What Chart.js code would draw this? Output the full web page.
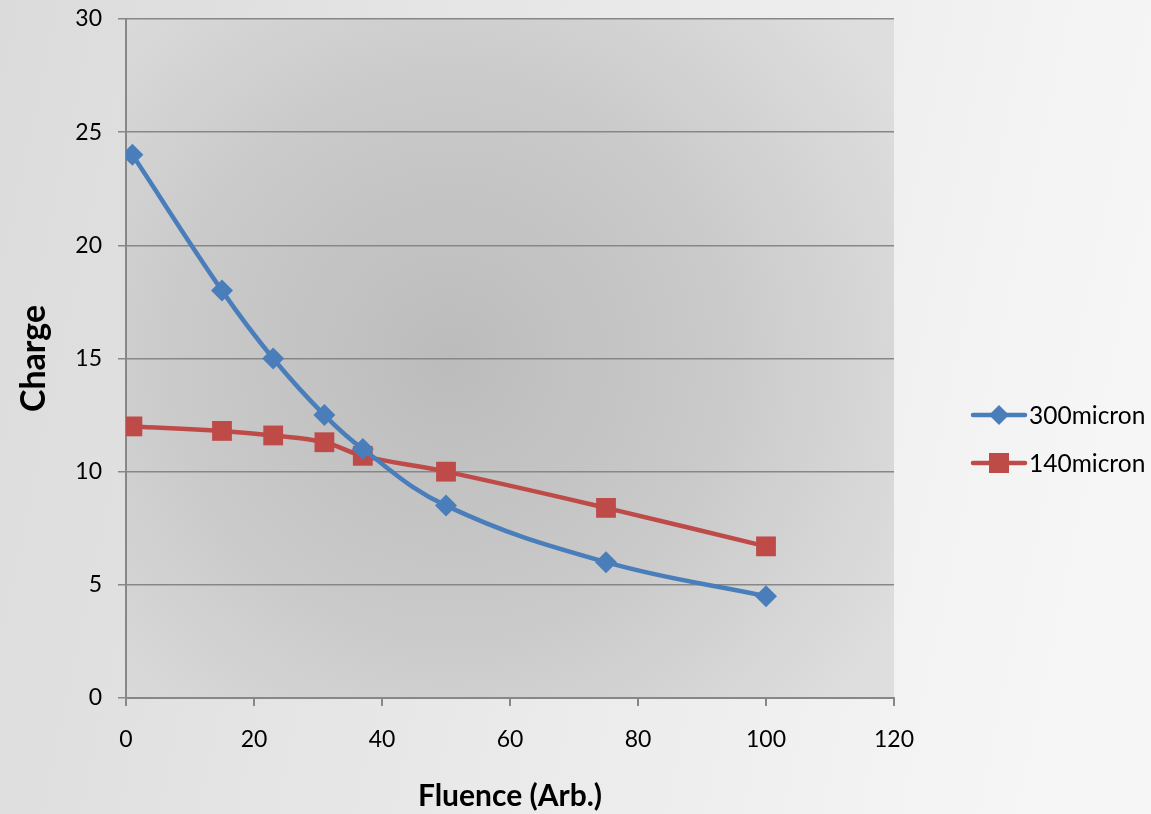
<!DOCTYPE html>
<html>
<head>
<meta charset="utf-8">
<script src="https://cdn.jsdelivr.net/npm/chart.js@4.4.1/dist/chart.umd.min.js"></script>
<style>
  html, body { margin: 0; padding: 0; background: #e6e6e6; }
  #wrap { width: 1151px; height: 814px; position: relative; }
</style>
</head>
<body>
<div id="wrap"><canvas id="c" width="1151" height="814"></canvas></div>
<script>
const fluence = [1, 15, 23, 31, 37, 50, 75, 100];
const charge300 = [24, 18, 15, 12.5, 11, 8.5, 6, 4.5];
const charge140 = [12, 11.8, 11.6, 11.3, 10.7, 10, 8.4, 6.7];
const seriesNames = ['300micron', '140micron'];
const xTitle = 'Fluence (Arb.)';
const yTitle = 'Charge';

const BLUE = '#4A7EBB';
const RED = '#BE4B48';
const GRID = '#878787';
const FONT = 'Lato, "Open Sans", sans-serif';

const toPts = (ys) => fluence.map((x, i) => ({ x: x, y: ys[i] }));

const bgPlugin = {
  id: 'bg',
  beforeDraw(chart) {
    const { ctx, chartArea: a, width, height } = chart;
    ctx.save();
    const g = ctx.createLinearGradient(0, 0, width, height * 0.3);
    g.addColorStop(0, '#dbdbdb');
    g.addColorStop(1, '#f6f6f6');
    ctx.fillStyle = g;
    ctx.fillRect(0, 0, width, height);
    const cx = (a.left + a.right) / 2 - 60, cy = (a.top + a.bottom) / 2;
    const rg = ctx.createRadialGradient(cx, cy, 0, cx, cy, 520);
    rg.addColorStop(0, '#bcbcbc');
    rg.addColorStop(0.5, '#c9c9c9');
    rg.addColorStop(1, '#dedede');
    ctx.fillStyle = rg;
    ctx.fillRect(a.left, a.top, a.right - a.left, a.bottom - a.top);
    ctx.restore();
  }
};

const legendPlugin = {
  id: 'customLegend',
  afterDraw(chart) {
    const { ctx } = chart;
    const items = [
      { name: seriesNames[0], color: BLUE, shape: 'diamond', y: 415 },
      { name: seriesNames[1], color: RED, shape: 'square', y: 463 }
    ];
    ctx.save();
    items.forEach(it => {
      ctx.strokeStyle = it.color;
      ctx.lineWidth = 4.5;
      ctx.lineCap = 'round';
      ctx.beginPath();
      ctx.moveTo(973, it.y);
      ctx.lineTo(1025, it.y);
      ctx.stroke();
      ctx.fillStyle = it.color;
      const cx = 999;
      if (it.shape === 'diamond') {
        ctx.beginPath();
        ctx.moveTo(cx, it.y - 10);
        ctx.lineTo(cx + 10, it.y);
        ctx.lineTo(cx, it.y + 10);
        ctx.lineTo(cx - 10, it.y);
        ctx.closePath();
        ctx.fill();
      } else {
        ctx.fillRect(cx - 10, it.y - 10, 20, 20);
      }
      ctx.fillStyle = '#000';
      ctx.font = '24.5px ' + FONT;
      ctx.textBaseline = 'middle';
      ctx.textAlign = 'left';
      ctx.fillText(it.name, 1029, it.y + 1);
    });
    ctx.restore();
  }
};

new Chart(document.getElementById('c'), {
  type: 'line',
  data: {
    datasets: [
      {
        label: seriesNames[0],
        data: toPts(charge300),
        borderColor: BLUE,
        backgroundColor: BLUE,
        borderWidth: 4.5,
        pointStyle: 'rectRot',
        pointRadius: 11,
        pointBorderWidth: 0,
        tension: 0.4,
        fill: false
      },
      {
        label: seriesNames[1],
        data: toPts(charge140),
        borderColor: RED,
        backgroundColor: RED,
        borderWidth: 4.5,
        pointStyle: 'rect',
        pointRadius: 14,
        pointBorderWidth: 0,
        tension: 0.4,
        fill: false
      }
    ]
  },
  options: {
    responsive: false,
    animation: false,
    layout: { padding: { top: 19, right: 257, left: 0, bottom: 0 } },
    plugins: { legend: { display: false }, tooltip: { enabled: false } },
    scales: {
      x: {
        type: 'linear',
        min: 0, max: 120,
        ticks: { stepSize: 20, color: '#000', font: { family: FONT, size: 23 }, padding: 20, maxRotation: 0 },
        grid: { drawOnChartArea: false, drawTicks: true, tickLength: 8, color: GRID, lineWidth: 2 },
        border: { display: true, color: GRID, width: 2 },
        title: { display: true, text: xTitle, color: '#000', font: { family: FONT, size: 30, weight: 'bold' }, padding: { top: 2, bottom: 0 } },
        afterFit(s) { s.height = 116; s.paddingLeft = 0; s.paddingRight = 0; }
      },
      y: {
        min: 0, max: 30,
        ticks: { stepSize: 5, color: '#000', font: { family: FONT, size: 23 }, padding: 16 },
        grid: { drawOnChartArea: true, drawTicks: true, tickLength: 8, color: GRID, lineWidth: 1.5 },
        border: { display: true, color: GRID, width: 2 },
        title: { display: true, text: yTitle, color: '#000', font: { family: FONT, size: 34, weight: 'bold' }, padding: { top: 14, bottom: 0 } },
        afterFit(s) { s.width = 126; s.paddingTop = 0; s.paddingBottom = 0; }
      }
    }
  },
  plugins: [bgPlugin, legendPlugin]
});
</script>
</body>
</html>
